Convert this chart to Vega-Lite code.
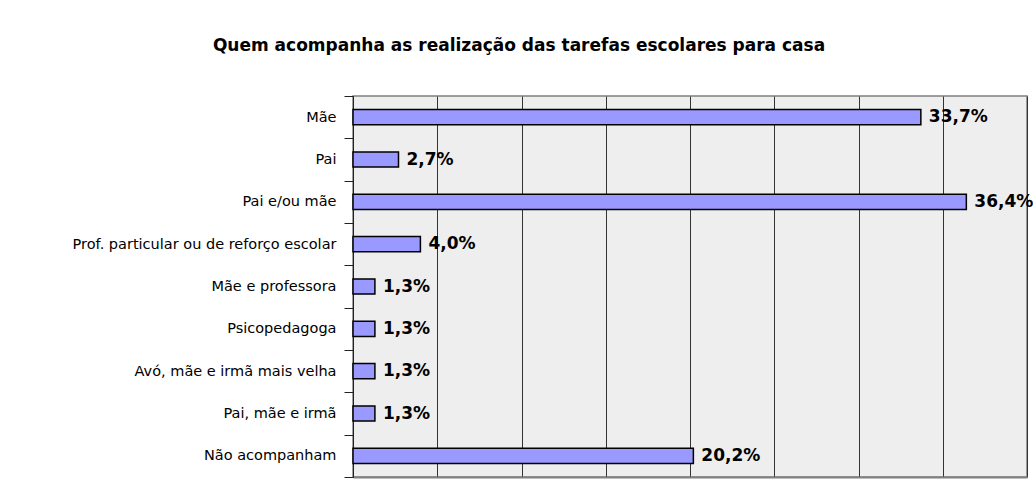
{
  "$schema": "https://vega.github.io/schema/vega-lite/v6.json",
  "width": 674,
  "height": 381,
  "autosize": "none",
  "padding": {"left": 353, "top": 96, "right": 6, "bottom": 14},
  "background": "white",
  "title": {
    "text": "Quem acompanha as realização das tarefas escolares para casa",
    "font": "DejaVu Sans",
    "fontSize": 17,
    "fontWeight": "bold",
    "color": "black",
    "anchor": "middle",
    "dx": -171,
    "offset": 20,
    "baseline": "alphabetic"
  },
  "data": {
    "values": [
      {"cat": "Mãe", "pct": 33.7, "label": "33,7%"},
      {"cat": "Pai", "pct": 2.7, "label": "2,7%"},
      {"cat": "Pai e/ou mãe", "pct": 36.4, "label": "36,4%"},
      {"cat": "Prof. particular ou de reforço escolar", "pct": 4.0, "label": "4,0%"},
      {"cat": "Mãe e professora", "pct": 1.3, "label": "1,3%"},
      {"cat": "Psicopedagoga", "pct": 1.3, "label": "1,3%"},
      {"cat": "Avó, mãe e irmã mais velha", "pct": 1.3, "label": "1,3%"},
      {"cat": "Pai, mãe e irmã", "pct": 1.3, "label": "1,3%"},
      {"cat": "Não acompanham", "pct": 20.2, "label": "20,2%"}
    ]
  },
  "encoding": {
    "y": {
      "field": "cat",
      "type": "nominal",
      "sort": null,
      "title": null,
      "scale": {"paddingInner": 0, "paddingOuter": 0},
      "axis": {
        "labelFont": "DejaVu Sans",
        "labelFontSize": 14.5,
        "labelColor": "black",
        "labelPadding": 8,
        "labelLimit": 400,
        "tickBand": "extent",
        "tickSize": 9,
        "tickColor": "#222222",
        "domainColor": "#222222",
        "grid": false
      }
    },
    "x": {
      "field": "pct",
      "type": "quantitative",
      "title": null,
      "scale": {"domain": [0, 40], "nice": false},
      "axis": {
        "values": [0, 5, 10, 15, 20, 25, 30, 35, 40],
        "labels": false,
        "ticks": false,
        "domain": true,
        "domainColor": "#808080",
        "domainWidth": 2,
        "grid": true,
        "gridColor": "#333333",
        "gridOpacity": 1
      }
    }
  },
  "layer": [
    {
      "mark": {"type": "bar", "height": {"band": 0.36}, "fill": "#9999ff", "stroke": "black", "strokeWidth": 1.5}
    },
    {
      "mark": {
        "type": "text",
        "align": "left",
        "baseline": "middle",
        "dx": 8,
        "font": "DejaVu Sans",
        "fontSize": 17,
        "fontWeight": "bold",
        "color": "black"
      },
      "encoding": {"text": {"field": "label"}}
    }
  ],
  "config": {
    "view": {"fill": "#eeeeee", "stroke": "#808080", "strokeWidth": 1.5}
  }
}
